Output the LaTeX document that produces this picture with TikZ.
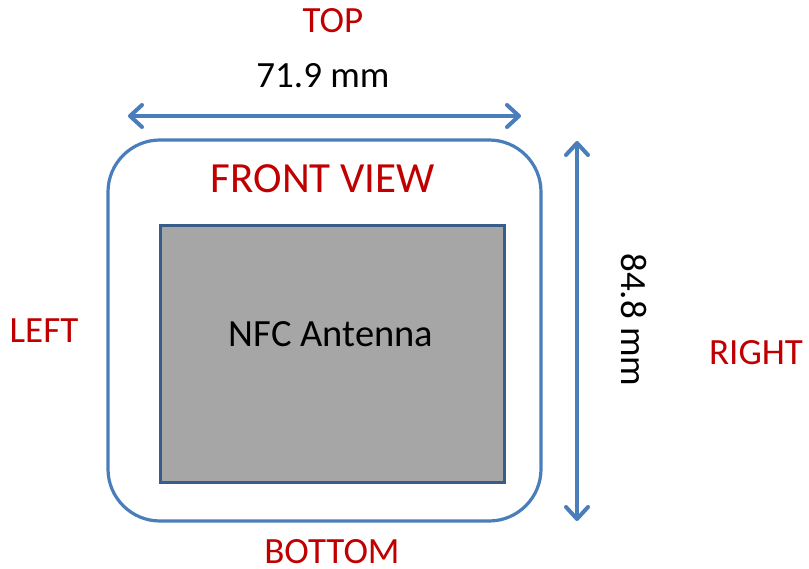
\documentclass[tikz,border=0pt]{standalone}
\usepackage{fontspec}
\setmainfont{Carlito}
\usetikzlibrary{arrows.meta}
\definecolor{lineblue}{RGB}{74,126,187}
\definecolor{darkblue}{RGB}{56,93,138}
\definecolor{antgray}{RGB}{166,166,166}
\definecolor{labred}{RGB}{192,0,0}
\tikzset{
  lbl/.style={font=\fontsize{37}{44}\selectfont, inner sep=0pt, anchor=base},
  redlbl/.style={lbl, text=labred},
  dimarrow/.style={draw=lineblue, line width=4pt,
    {Straight Barb[length=12pt,width=22pt,round]}-{Straight Barb[length=12pt,width=22pt,round]}},
}
\begin{document}
\begin{tikzpicture}[x=1pt,y=-1pt]
\useasboundingbox (0,0) rectangle (809,569);
% device outline
\node[draw=lineblue, line width=3.2pt, rounded corners=52pt, minimum width=433pt, minimum height=381pt, inner sep=0pt] (device) at (324.5,330.5) {};
% antenna
\node[draw=darkblue, fill=antgray, line width=3pt, minimum width=344pt, minimum height=256pt, inner sep=0pt] (antenna) at (332,354) {};
\node[lbl, font=\fontsize{38.5}{46}\selectfont] (nfc) at (331,347) {NFC Antenna};
% labels
\node[redlbl] (top) at (333,33) {TOP};
\node[redlbl, font=\fontsize{43}{50}\selectfont] (front) at (323,193) {FRONT VIEW};
\node[redlbl] (left) at (44,343) {LEFT};
\node[redlbl] (right) at (756,365) {RIGHT};
\node[redlbl, text depth=0pt] (bottom) at (332,563) {BOTTOM};
\node[lbl] (wlbl) at (323,88) {71.9 mm};
\node[lbl, rotate=-90] (hlbl) at (621,320) {84.8 mm};
% dimension arrows
\coordinate (wl) at (128,116);
\coordinate (wr) at (521,116);
\coordinate (ht) at (577,141);
\coordinate (hb) at (577,521);
\draw[dimarrow] (wl) -- (wr);
\draw[dimarrow] (ht) -- (hb);
\end{tikzpicture}
\end{document}
